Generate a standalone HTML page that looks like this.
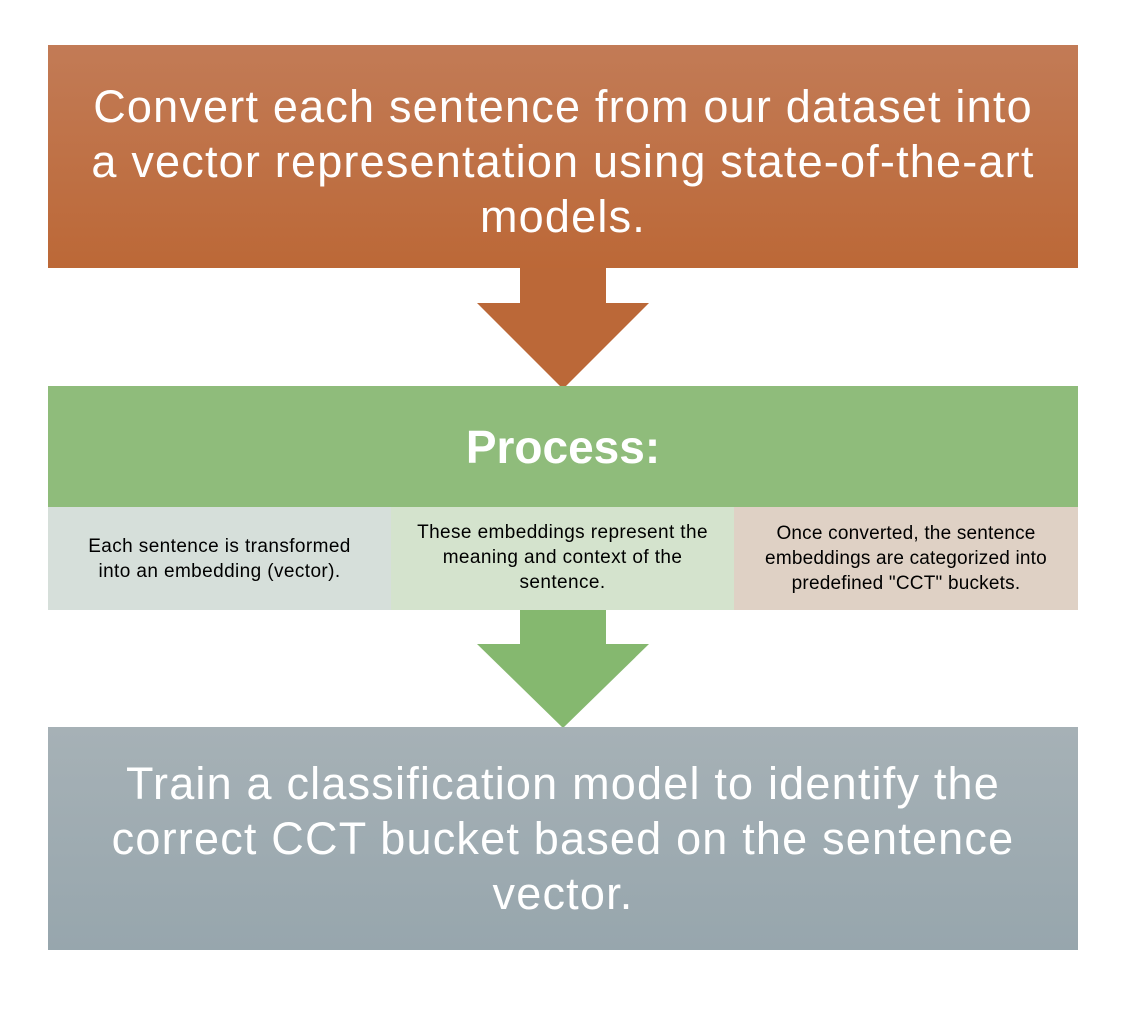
<!DOCTYPE html>
<html><head><style>
body{margin:0;width:1148px;height:1016px;background:#fff;position:relative;font-family:"Liberation Sans",sans-serif;overflow:hidden}
.b{position:absolute;display:flex;align-items:center;justify-content:center;text-align:center;box-sizing:border-box}
</style></head><body>
<div class="b" style="left:48px;top:45px;width:1030px;height:223px;padding-top:10px;background:linear-gradient(#c27b56,#bc6837);color:#fff;font-size:45px;line-height:55px;letter-spacing:1.2px;white-space:nowrap">Convert each sentence from our dataset into<br>a vector representation using state-of-the-art<br>models.</div>
<svg style="position:absolute;left:0;top:0" width="1148" height="1016">
<polygon points="520,268 606,268 606,303 649,303 563,389 477,303 520,303" fill="#bb6838"/>
<polygon points="520,610 606,610 606,644 649,644 563,728 477,644 520,644" fill="#85b86f"/>
</svg>
<div class="b" style="left:48px;top:386px;width:1030px;height:121px;background:#8fbc7b;color:#fff;font-size:46px;font-weight:bold">Process:</div>
<div class="b" style="left:48px;top:507px;width:343px;height:103px;background:#d6dfda;font-size:19px;letter-spacing:0.4px;line-height:25px;white-space:nowrap">Each sentence is transformed<br>into an embedding (vector).</div>
<div class="b" style="left:391px;top:507px;width:343px;height:103px;background:#d4e3cd;font-size:19px;letter-spacing:0.4px;line-height:25px;white-space:nowrap;padding-bottom:3px">These embeddings represent the<br>meaning and context of the<br>sentence.</div>
<div class="b" style="left:734px;top:507px;width:344px;height:103px;background:#dfd1c5;font-size:19px;letter-spacing:0.2px;line-height:25px;white-space:nowrap">Once converted, the sentence<br>embeddings are categorized into<br>predefined "CCT" buckets.</div>
<div class="b" style="left:48px;top:727px;width:1030px;height:223px;background:linear-gradient(#a6b1b6,#97a6ad);color:#fff;font-size:45px;line-height:55px;letter-spacing:1.2px;white-space:nowrap">Train a classification model to identify the<br>correct CCT bucket based on the sentence<br>vector.</div>
</body></html>
